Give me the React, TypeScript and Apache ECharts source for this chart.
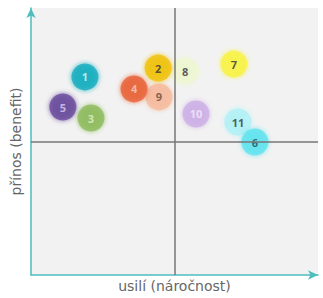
import React, { useEffect, useRef } from "react";
import * as echarts from "echarts";

const ids = ["8", "9", "2", "4", "5", "3", "1", "7", "10", "11", "6"];
const effort = [5.37, 4.46, 4.43, 3.59, 1.11, 2.09, 1.88, 7.07, 5.75, 7.21, 7.8];
const benefit = [7.64, 6.67, 7.75, 6.97, 6.29, 5.88, 7.42, 7.9, 6.03, 5.73, 4.98];
const colors = ["#eef6d2", "#f5bc9f", "#f0c20c", "#e8643a", "#6a4c9c", "#8fbc5e", "#16aebf", "#f8f247", "#cdb0e6", "#b2f1f5", "#62e3ef"];
const labelColors = ["#333", "#6b4a3a", "#333", "#f3d0c0", "#ddd0f0", "#e2f0d0", "#e6f7fa", "#333", "#f3ecfb", "#333", "#1f4f55"];

const xName = "usilí (náročnost)";
const yName = "přínos (benefit)";

export default function App() {
  const ref = useRef<HTMLDivElement>(null);
  useEffect(() => {
    const chart = echarts.init(ref.current!, null, { renderer: "svg" });
    const axisColor = "#4dbdbd";
    chart.setOption({
      animation: false,
      grid: { left: 31, right: 5, top: 8, bottom: 23, show: true, backgroundColor: "#f2f2f2", borderWidth: 0 },
      xAxis: {
        type: "value", min: 0, max: 10,
        name: xName, nameLocation: "middle", nameGap: 4,
        nameTextStyle: { fontFamily: "DejaVu Sans", fontSize: 14, color: "#666" },
        axisLine: { show: true, symbol: ["none", "arrow"], symbolSize: [7, 10], lineStyle: { color: axisColor, width: 1.5 } },
        axisTick: { show: false }, axisLabel: { show: false }, splitLine: { show: false },
      },
      yAxis: {
        type: "value", min: 0, max: 10,
        name: yName, nameLocation: "middle", nameGap: 8,
        nameTextStyle: { fontFamily: "DejaVu Sans", fontSize: 14, color: "#666" },
        axisLine: { show: true, symbol: ["none", "arrow"], symbolSize: [7, 10], lineStyle: { color: axisColor, width: 1.5 } },
        axisTick: { show: false }, axisLabel: { show: false }, splitLine: { show: false },
      },
      series: [
        {
          type: "line",
          data: [],
          markLine: {
            silent: true, symbol: "none", label: { show: false },
            lineStyle: { color: "#777", width: 1.5, type: "solid" },
            data: [{ xAxis: 5 }, { yAxis: 5 }],
          },
        },
        {
          type: "scatter",
          symbolSize: 27,
          data: ids.map((id, i) => ({
            name: id,
            value: [effort[i], benefit[i]],
            itemStyle: { color: colors[i], shadowColor: colors[i], shadowBlur: 5 },
            label: { color: labelColors[i] },
          })),
          label: {
            show: true, position: "inside", formatter: (p: any) => p.name,
            fontFamily: "Open Sans", fontSize: 11, fontWeight: "bold",
          },
        },
      ],
    });
    return () => chart.dispose();
  }, []);
  return <div ref={ref} style={{ width: 323, height: 298, position: "absolute", left: 0, top: 0 }} />;
}
